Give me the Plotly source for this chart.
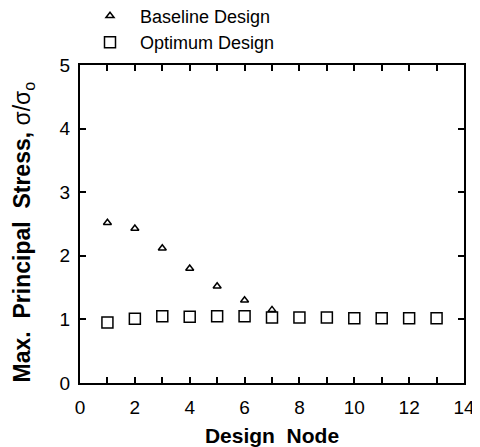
import plotly.graph_objects as go

nodes = [1, 2, 3, 4, 5, 6, 7, 8, 9, 10, 11, 12, 13]
baseline_nodes = [1, 2, 3, 4, 5, 6, 7]
baseline_vals = [2.52, 2.43, 2.12, 1.80, 1.52, 1.30, 1.15]
optimum_vals = [0.95, 1.01, 1.05, 1.04, 1.05, 1.05, 1.03, 1.03, 1.03, 1.02, 1.02, 1.02, 1.02]

x_ticks = [0, 2, 4, 6, 8, 10, 12, 14]
y_ticks = [0, 1, 2, 3, 4, 5]

FONT = "Liberation Sans, Arial, sans-serif"

fig = go.Figure()
fig.add_trace(go.Scatter(
    x=baseline_nodes, y=baseline_vals, mode="markers", name="Baseline Design",
    marker=dict(symbol="triangle-up-open", size=7, color="black", line=dict(width=1.5, color="black")),
))
fig.add_trace(go.Scatter(
    x=nodes, y=optimum_vals, mode="markers", name="Optimum Design",
    marker=dict(symbol="square-open", size=11, color="black", line=dict(width=1.5, color="black")),
))

axis_common = dict(
    showline=True, linecolor="black", linewidth=2, mirror="ticks",
    ticks="inside", ticklen=6, tickwidth=2, tickcolor="black",
    showgrid=False, zeroline=False, automargin=False,
    tickfont=dict(family=FONT, size=19, color="black"),
)

fig.update_xaxes(
    range=[0, 14], tickmode="array", tickvals=x_ticks, ticktext=[str(v) for v in x_ticks],
    minor=dict(ticks="inside", dtick=1, ticklen=6, tickwidth=2, tickcolor="black"),
    ticklabelstandoff=6,
    title=dict(text="<b>Design  Node</b>", standoff=12,
               font=dict(family=FONT, size=21, color="black")),
    **axis_common,
)
fig.update_yaxes(
    range=[0, 5], tickmode="array", tickvals=y_ticks, ticktext=[str(v) for v in y_ticks],
    ticklabelstandoff=4,
    **axis_common,
)

# y-axis title placed as a rotated annotation for precise positioning
fig.add_annotation(
    text="<b>Max.  Principal  Stress,</b> σ/σ<sub>o</sub>",
    xref="paper", yref="paper", x=-0.148, y=0.474,
    xanchor="center", yanchor="middle", textangle=-90, showarrow=False,
    font=dict(family=FONT, size=23, color="black"),
)

# the page adds an 8px body margin, so the figure is sized/offset to compensate
fig.update_layout(
    width=472, height=439,
    margin=dict(l=72, r=16, t=57, b=64, autoexpand=False),
    paper_bgcolor="white", plot_bgcolor="white",
    showlegend=True,
    legend=dict(
        x=0.0, y=1.212, xanchor="left", yanchor="top",
        font=dict(family=FONT, size=18, color="black"),
        bgcolor="rgba(0,0,0,0)", itemwidth=50, tracegroupgap=0,
    ),
)

fig.write_html("out.html")
